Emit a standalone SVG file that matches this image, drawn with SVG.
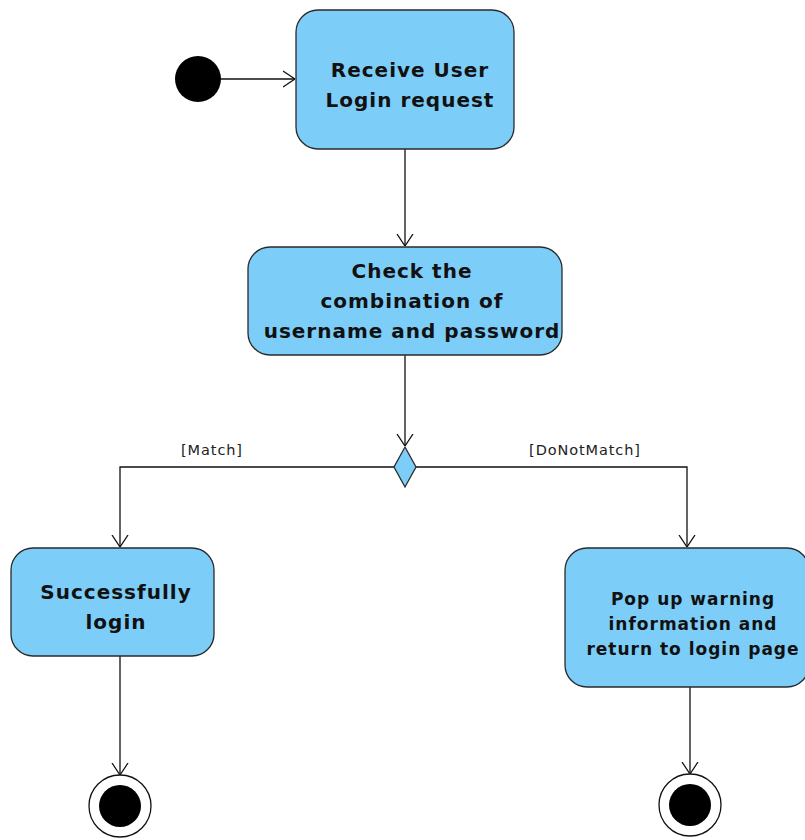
<svg xmlns="http://www.w3.org/2000/svg" width="805" height="840" viewBox="0 0 805 840">
  <style>
    .action { fill: #7ccdf8; stroke: #2a2a2a; stroke-width: 1.3; }
    .label { font-family: "DejaVu Sans", "Liberation Sans", sans-serif; font-weight: bold; fill: #111; text-anchor: middle; letter-spacing: 1px; }
    .guard { font-family: "DejaVu Sans", "Liberation Sans", sans-serif; font-size: 14.5px; fill: #222; text-anchor: middle; letter-spacing: 0.9px; }
    .flow { fill: none; stroke: #111; stroke-width: 1.3; }
  </style>
  <defs>
    <marker id="open" viewBox="0 0 12 18" refX="12" refY="9" markerWidth="12" markerHeight="18" markerUnits="userSpaceOnUse" orient="auto">
      <path d="M0,1 L12,9 L0,17" fill="none" stroke="#111" stroke-width="1.3"/>
    </marker>
  </defs>

  <g id="connectors">
    <line class="flow" x1="221" y1="79" x2="295" y2="79" marker-end="url(#open)"/>
    <line class="flow" x1="405" y1="149" x2="405" y2="246" marker-end="url(#open)"/>
    <line class="flow" x1="405" y1="355" x2="405" y2="446" marker-end="url(#open)"/>
    <polyline class="flow" points="394,467 120,467 120,547" marker-end="url(#open)"/>
    <polyline class="flow" points="416,467 687,467 687,547" marker-end="url(#open)"/>
    <line class="flow" x1="120" y1="656" x2="120" y2="775" marker-end="url(#open)"/>
    <line class="flow" x1="690" y1="687" x2="690" y2="774" marker-end="url(#open)"/>
    <text class="guard" x="212" y="455">[Match]</text>
    <text class="guard" x="585" y="455">[DoNotMatch]</text>
  </g>

  <g id="start">
    <circle cx="198" cy="79" r="23" fill="#000"/>
  </g>

  <g id="receive">
    <rect class="action" x="296" y="10" width="218" height="139" rx="22"/>
    <text class="label" font-size="20" x="410" y="77">Receive User</text>
    <text class="label" font-size="20" x="410" y="107">Login request</text>
  </g>

  <g id="check">
    <rect class="action" x="248" y="247" width="314" height="108" rx="22"/>
    <text class="label" font-size="20" x="412" y="278">Check the</text>
    <text class="label" font-size="20" x="412" y="308">combination of</text>
    <text class="label" font-size="20" x="412" y="338">username and password</text>
  </g>

  <g id="decision">
    <polygon class="action" points="405,447 416,467 405,487 394,467"/>
  </g>

  <g id="success">
    <rect class="action" x="11" y="548" width="203" height="108" rx="22"/>
    <text class="label" font-size="20" x="116" y="599">Successfully</text>
    <text class="label" font-size="20" x="116" y="629">login</text>
  </g>

  <g id="warning">
    <rect class="action" x="565" y="548" width="244" height="139" rx="22"/>
    <text class="label" font-size="17" x="693" y="605">Pop up warning</text>
    <text class="label" font-size="17" x="693" y="630">information and</text>
    <text class="label" font-size="17" x="693" y="655">return to login page</text>
  </g>

  <g id="end-success">
    <circle cx="120" cy="806" r="31" fill="#fff" stroke="#111" stroke-width="1.3"/>
    <circle cx="120" cy="806" r="21" fill="#000"/>
  </g>

  <g id="end-warning">
    <circle cx="690" cy="805" r="31" fill="#fff" stroke="#111" stroke-width="1.3"/>
    <circle cx="690" cy="805" r="21" fill="#000"/>
  </g>
</svg>
